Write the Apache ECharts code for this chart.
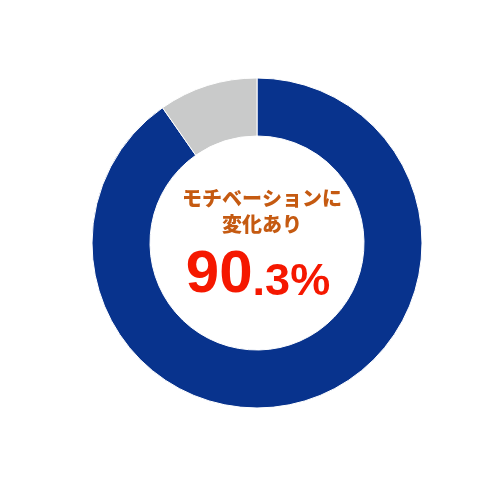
<!DOCTYPE html>
<html>
<head>
<meta charset="utf-8">
<script src="https://cdn.jsdelivr.net/npm/echarts@6/dist/echarts.min.js"></script>
<style>
  html, body { margin: 0; padding: 0; background: #fff; }
  #chart { width: 500px; height: 500px; }
</style>
</head>
<body>
<div id="chart"></div>
<script>
// 値
const names = ['変化あり', '変化なし'];
const values = [90.3, 9.7];
const colors = ['#08338d', '#c9caca'];
const labelLines = ['モチベーションに', '変化あり'];
const bigPart = '90';
const smallPart = '.3%';

const chartOpts = {
  backgroundColor: '#fff',
  title: [
    {
      text: labelLines.join('\n'),
      left: 257,
      top: 180,
      textAlign: 'center',
      textStyle: {
        fontFamily: 'Noto Sans CJK JP',
        fontSize: 20,
        fontWeight: 900,
        lineHeight: 26,
        color: '#c55a11'
      }
    },
    {
      text: `{a|${bigPart}}{b|${smallPart}}`,
      left: 253,
      top: 240,
      textAlign: 'center',
      textStyle: {
        rich: {
          a: {
            fontFamily: 'Liberation Sans',
            fontSize: 60,
            fontWeight: 'bold',
            color: '#f51800',
            verticalAlign: 'bottom'
          },
          b: {
            fontFamily: 'Liberation Sans',
            fontSize: 45,
            fontWeight: 'bold',
            color: '#f51800',
            verticalAlign: 'bottom'
          }
        }
      }
    }
  ],
  series: [
    {
      type: 'pie',
      center: [257, 243],
      radius: [107, 165],
      startAngle: 90,
      clockwise: true,
      silent: true,
      label: { show: false },
      labelLine: { show: false },
      itemStyle: { borderColor: '#fff', borderWidth: 1 },
      data: names.map((n, i) => ({
        name: n,
        value: values[i],
        itemStyle: { color: colors[i] }
      }))
    }
  ]
};

const chart = echarts.init(document.getElementById('chart'));
chart.setOption(chartOpts);
</script>
</body>
</html>
